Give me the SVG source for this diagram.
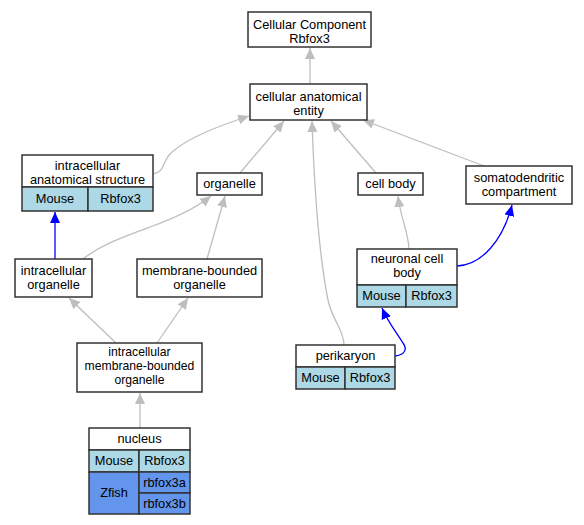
<svg xmlns="http://www.w3.org/2000/svg" width="584" height="525" viewBox="0 0 584 525">
<defs>
<style>
text{font-family:"Liberation Sans",Arial,sans-serif;font-size:12.8px;fill:#000;text-anchor:middle}
.sm{font-size:12.2px}
.box{fill:#fff;stroke:#333;stroke-width:1.5}
.m{fill:#add8e6;stroke:#333;stroke-width:1.5}
.z{fill:#6495ed;stroke:#333;stroke-width:1.5}
.e{fill:none;stroke:#bebebe;stroke-width:1.3;marker-end:url(#ag)}
.b{fill:none;stroke:#0000ff;stroke-width:1.3;marker-end:url(#ab)}
</style>
<marker id="ag" markerUnits="userSpaceOnUse" markerWidth="12" markerHeight="11" refX="11" refY="5" orient="auto"><path d="M0,0 L11,5 L0,10 z" fill="#bebebe"/></marker>
<marker id="ab" markerUnits="userSpaceOnUse" markerWidth="12" markerHeight="11" refX="11" refY="5" orient="auto"><path d="M0,0 L11,5 L0,10 z" fill="#0000ff"/></marker>
</defs>
<rect width="584" height="525" fill="#fff"/>
<g id="edges">
<path class="e" d="M310,84 L310,48"/>
<path class="e" d="M153,174 C166,172 162,160 172,152 C190,136 225,124 249,116"/>
<path class="e" d="M240,173 L284,121"/>
<path class="e" d="M344,345 C344,330 332,320 328,300 C318,250 314,180 312,121"/>
<path class="e" d="M376,173 L331,121"/>
<path class="e" d="M484,166 L363,120"/>
<path class="b" d="M55,259 L55,212"/>
<path class="e" d="M83,259 C100,245 128,235 150,227 C175,218 196,208 211,196"/>
<path class="e" d="M207,259 L225,196"/>
<path class="e" d="M116,343 L69,298"/>
<path class="e" d="M157,343 L188,298"/>
<path class="e" d="M140,428 L140,393"/>
<path class="e" d="M409,249 C408,230 401,220 398,196"/>
<path class="b" d="M457,266 C482,265 503,240 512,205"/>
<path class="b" d="M395,356 C404,355 408,350 403,343 C396,332 388,322 382,308"/>
</g>
<g id="cc"><rect class="box" x="248" y="12" width="123" height="35"/><text x="309.5" y="29">Cellular Component</text><text x="309.5" y="43">Rbfox3</text></g>
<g id="cae"><rect class="box" x="250" y="84" width="117" height="36"/><text x="308.5" y="101">cellular anatomical</text><text x="308.5" y="115">entity</text></g>
<g id="ias"><rect class="box" x="22" y="155" width="131" height="32"/><text x="87.5" y="170">intracellular</text><text x="87.5" y="184">anatomical structure</text>
<rect class="m" x="22" y="187" width="66" height="24"/><rect class="m" x="88" y="187" width="65" height="24"/><text x="55" y="203">Mouse</text><text x="120.5" y="203">Rbfox3</text></g>
<g id="organelle"><rect class="box" x="197" y="173" width="65" height="22"/><text x="229.5" y="188">organelle</text></g>
<g id="cellbody"><rect class="box" x="358" y="173" width="65" height="22"/><text x="390.5" y="188">cell body</text></g>
<g id="soma"><rect class="box" x="466" y="166" width="106" height="38"/><text x="519" y="182">somatodendritic</text><text x="519" y="196">compartment</text></g>
<g id="io"><rect class="box" x="15" y="259" width="77" height="38"/><text x="53.5" y="275">intracellular</text><text x="53.5" y="289">organelle</text></g>
<g id="mbo"><rect class="box" x="137" y="259" width="125" height="38"/><text x="199.5" y="275">membrane-bounded</text><text x="199.5" y="289">organelle</text></g>
<g id="ncb"><rect class="box" x="357" y="249" width="100" height="36"/><text x="407" y="263">neuronal cell</text><text x="407" y="277">body</text>
<rect class="m" x="357" y="285" width="49" height="22"/><rect class="m" x="406" y="285" width="51" height="22"/><text x="381.5" y="300">Mouse</text><text x="431.5" y="300">Rbfox3</text></g>
<g id="imbo"><rect class="box" x="77" y="343" width="125" height="49"/><text class="sm" x="139.5" y="356">intracellular</text><text class="sm" x="139.5" y="370">membrane-bounded</text><text class="sm" x="139.5" y="384">organelle</text></g>
<g id="perikaryon"><rect class="box" x="296" y="345" width="99" height="22"/><text x="345.5" y="360">perikaryon</text>
<rect class="m" x="296" y="367" width="49" height="22"/><rect class="m" x="345" y="367" width="50" height="22"/><text x="320.5" y="382">Mouse</text><text x="370" y="382">Rbfox3</text></g>
<g id="nucleus"><rect class="box" x="89" y="428" width="101" height="22"/><text x="139.5" y="443">nucleus</text>
<rect class="m" x="89" y="450" width="50" height="22"/><rect class="m" x="139" y="450" width="51" height="22"/><text x="114" y="465">Mouse</text><text x="164.5" y="465">Rbfox3</text>
<rect class="z" x="89" y="472" width="50" height="42"/><rect class="z" x="139" y="472" width="51" height="21"/><rect class="z" x="139" y="493" width="51" height="21"/>
<text x="114" y="497">Zfish</text><text x="164.5" y="487">rbfox3a</text><text x="164.5" y="508">rbfox3b</text></g>
</svg>
